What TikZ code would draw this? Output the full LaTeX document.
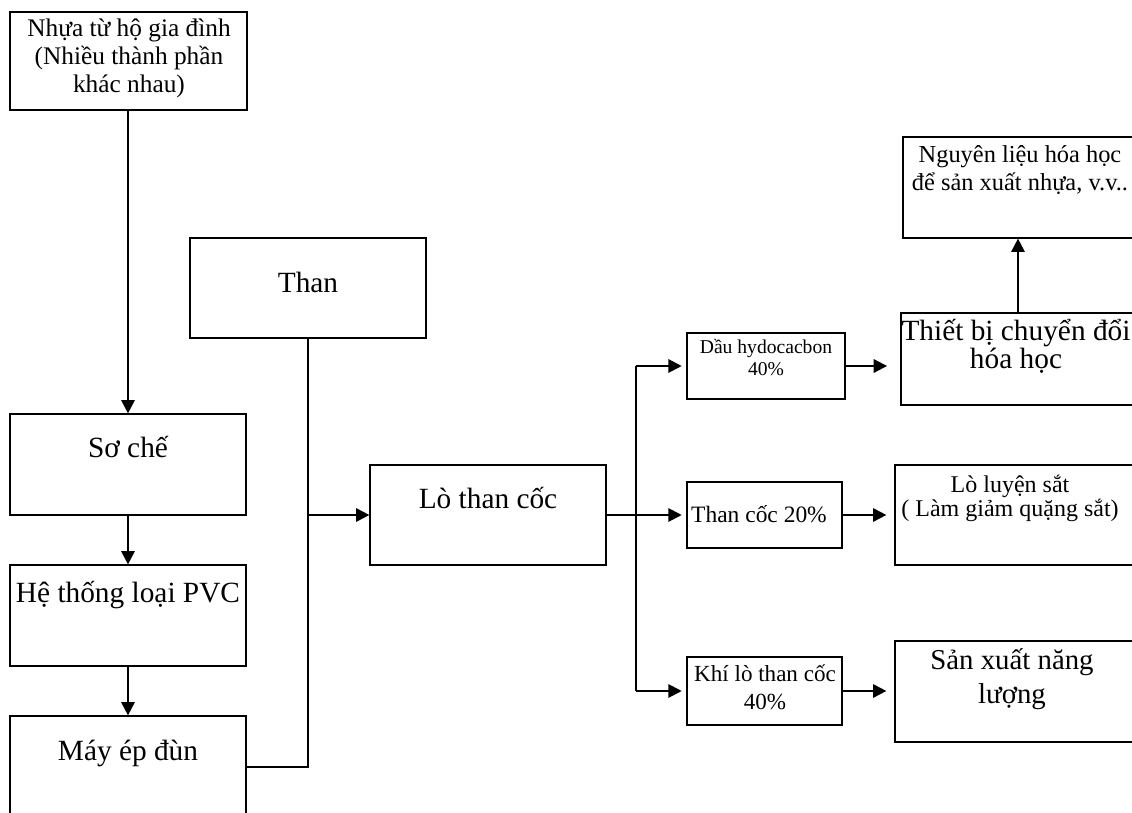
\documentclass[tikz,border=0pt]{standalone}
\usepackage{fontspec}
\setmainfont{Liberation Serif}
\usetikzlibrary{arrows.meta,calc}
\newdimen\pu \pu=0.75pt

\tikzset{
  box/.style={draw, line width=0.9pt, rectangle, inner sep=0pt},
  flow/.style={line width=1.5pt, -{Triangle[length=10pt,width=10pt]}},
  link/.style={line width=1.5pt},
  % base anchor of a multi-line label sits on its last line
  txt/.style={align=center, inner sep=0pt, anchor=base},
}
\newcommand{\fs}[2]{\fontsize{#1}{#2}\selectfont}

\begin{document}
\begin{tikzpicture}[x=1\pu, y=-1\pu]
  \useasboundingbox (0,0) rectangle (1132,813);
  \clip (0,0) rectangle (1132,813);

  % left column: household plastics line
  \node[box, minimum width=237\pu, minimum height=98\pu]  (src)   at (128.5,61) {};
  \node[box, minimum width=236\pu, minimum height=101\pu] (soche) at (128,464.5) {};
  \node[box, minimum width=236\pu, minimum height=101\pu] (pvc)   at (128,615.5) {};
  \node[box, minimum width=236\pu, minimum height=101\pu] (ep)    at (128,766.5) {};

  % coal and coke oven
  \node[box, minimum width=236\pu, minimum height=100\pu] (than) at (308,288) {};
  \node[box, minimum width=236\pu, minimum height=100\pu] (lo)   at (488,515) {};

  % coke oven products
  \node[box, minimum width=158\pu, minimum height=66\pu] (dau) at (766,366) {};
  \node[box, minimum width=155\pu, minimum height=66\pu] (coc) at (764.5,515) {};
  \node[box, minimum width=155\pu, minimum height=68\pu] (khi) at (764.5,691) {};

  % end uses
  \node[box, minimum width=234\pu, minimum height=101\pu] (nl)  at (1020,187.5) {};
  \node[box, minimum width=234\pu, minimum height=92\pu]  (tb)  at (1018,359) {};
  \node[box, minimum width=240\pu, minimum height=100\pu] (lls) at (1015,515) {};
  \node[box, minimum width=240\pu, minimum height=101\pu] (sx)  at (1015,691.5) {};

  % labels
  \node[txt, font=\fs{19}{21}] (t-src) at (129,93) {Nhựa từ hộ gia đình\\(Nhiều thành phần\\khác nhau)};
  \node[txt, font=\fs{22}{27}] (t-soche) at (128,457) {Sơ chế};
  \node[txt, font=\fs{22}{27}] (t-pvc) at (128,602) {Hệ thống loại PVC};
  \node[txt, font=\fs{22}{27}] (t-ep) at (128,760) {Máy ép đùn};
  \node[txt, font=\fs{22}{27}] (t-than) at (308,292) {Than};
  \node[txt, font=\fs{22}{27}] (t-lo) at (488,508) {Lò than cốc};
  \node[txt, font=\fs{14.7}{16.5}] (t-dau) at (766,375) {Dầu hydocacbon\\40\%};
  \node[txt, font=\fs{17.6}{21}] (t-coc) at (759,522) {Than cốc 20\%};
  \node[txt, font=\fs{17.3}{21}] (t-khi) at (765,709) {Khí lò than cốc\\40\%};
  \node[txt, font=\fs{22}{20.5}] (t-tb) at (1016,368) {Thiết bị chuyển đổi\\hóa học};
  \node[txt, font=\fs{18.3}{21}] (t-nl) at (1020,191) {Nguyên liệu hóa học\\để sản xuất nhựa, v.v..};
  \node[txt, font=\fs{18}{18}] (t-lls) at (1010,516) {Lò luyện sắt\\( Làm giảm quặng sắt)};
  \node[txt, font=\fs{21.6}{25.5}] (t-sx) at (1012,703) {Sản xuất năng\\lượng};

  % junction points
  \coordinate (jthan) at (than.south |- ep.east);
  \coordinate (jin)   at (than.south |- lo.west);
  \coordinate (jout)  at (636,515);
  \coordinate (jtop)  at (jout |- dau.west);
  \coordinate (jbot)  at (jout |- khi.west);

  % left column flow
  \draw[flow] (soche.north |- src.south) -- (soche.north);
  \draw[flow] (soche.south) -- (pvc.north);
  \draw[flow] (pvc.south) -- (ep.north);

  % feed into the coke oven
  \draw[link] (ep.east) -- (jthan) -- (than.south);
  \draw[flow] (jin) -- (lo.west);

  % coke oven outputs
  \draw[link] (lo.east) -- (jout);
  \draw[link] (jtop) -- (jbot);
  \draw[flow, shorten >=3.5pt] (jtop) -- (dau.west);
  \draw[flow, shorten >=3.5pt] (jout) -- (coc.west);
  \draw[flow, shorten >=3.5pt] (jbot) -- (khi.west);

  \draw[flow, shorten >=10pt] (dau.east) -- (dau.east -| tb.west);
  \draw[flow, shorten >=6pt] (coc.east) -- (coc.east -| lls.west);
  \draw[flow, shorten >=6pt] (khi.east) -- (khi.east -| sx.west);
  \draw[flow] (tb.north) -- (tb.north |- nl.south);
\end{tikzpicture}
\end{document}
